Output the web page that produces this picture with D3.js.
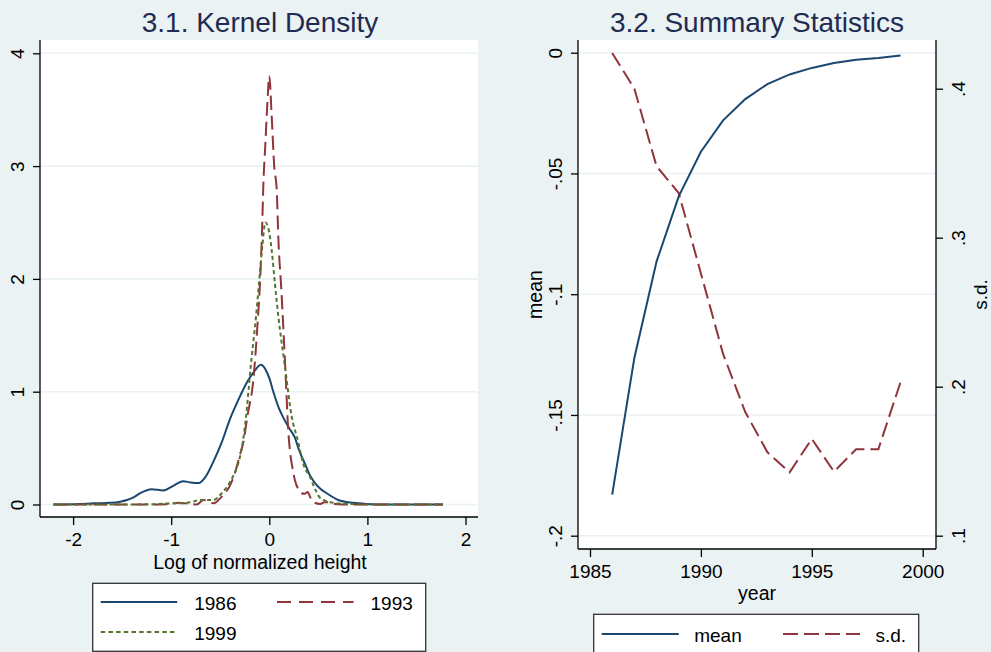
<!DOCTYPE html>
<html>
<head>
<meta charset="utf-8">
<script src="https://cdn.jsdelivr.net/npm/d3@7"></script>
<style>
body { margin: 0; background: #eaf2f3; }
svg { display: block; font-family: "Liberation Sans", Arial, sans-serif; }
</style>
</head>
<body>
<div id="chart"></div>
<script>
var bg = "#eaf2f3";
var navy = "#1a476f", maroon = "#90353b", green = "#55752f";
var titleColor = "#1f2b50";

// 3.1 kernel density : [log of normalized height, density]
var kd1986 = [[-2.2,0],[-1.93,0.005],[-1.79,0.01],[-1.62,0.015],[-1.52,0.025],[-1.45,0.04],[-1.38,0.065],
              [-1.315,0.1],[-1.2,0.135],[-1.08,0.125],[-0.98,0.165],[-0.88,0.207],[-0.8,0.195],[-0.72,0.19],
              [-0.65,0.245],[-0.57,0.38],[-0.485,0.55],[-0.4,0.76],[-0.33,0.9],[-0.23,1.08],[-0.163,1.17],
              [-0.085,1.24],[-0.04,1.2],[0,1.12],[0.041,1.0],[0.1,0.85],[0.143,0.77],[0.2,0.68],[0.262,0.59],
              [0.3,0.49],[0.364,0.36],[0.42,0.25],[0.466,0.19],[0.52,0.14],[0.585,0.1],[0.703,0.04],
              [0.85,0.015],[0.99,0.005],[1.2,0],[1.77,0]];
var kd1993 = [[-2.2,0],[-1.6,0],[-1.2,0],[-1.0,0.005],[-0.93,0.015],[-0.85,0.01],[-0.74,0],[-0.67,0.04],
              [-0.6,0.02],[-0.57,0.01],[-0.485,0.07],[-0.4,0.17],[-0.35,0.28],[-0.3,0.44],[-0.265,0.55],
              [-0.22,0.8],[-0.163,1.1],[-0.12,1.6],[-0.095,1.96],[-0.075,2.4],[-0.06,2.85],[-0.04,3.2],
              [-0.02,3.55],[0,3.8],[0.024,3.45],[0.05,3.0],[0.075,2.8],[0.095,2.3],[0.119,1.96],[0.17,1.08],
              [0.19,0.7],[0.21,0.48],[0.235,0.33],[0.26,0.22],[0.3,0.13],[0.33,0.1],[0.36,0.095],[0.39,0.11],
              [0.42,0.06],[0.45,0.02],[0.52,0.005],[0.56,0.02],[0.6,0.02],[0.67,0.005],[0.8,0],[1.2,0],[1.77,0]];
var kd1999 = [[-2.2,0],[-1.6,0],[-1.2,0.002],[-1.0,0.01],[-0.9,0.01],[-0.8,0.02],[-0.706,0.04],[-0.57,0.04],
              [-0.485,0.1],[-0.4,0.2],[-0.3,0.42],[-0.28,0.5],[-0.237,0.78],[-0.19,1.22],[-0.135,1.67],
              [-0.105,1.96],[-0.07,2.3],[-0.04,2.5],[-0.01,2.45],[0.024,2.26],[0.057,1.96],[0.092,1.67],
              [0.16,1.22],[0.228,0.78],[0.296,0.55],[0.313,0.48],[0.35,0.35],[0.415,0.245],[0.45,0.17],
              [0.517,0.06],[0.585,0.03],[0.65,0.015],[0.79,0.005],[1.0,0],[1.77,0]];
var kdTicksX = [-2, -1, 0, 1, 2];
var kdTicksY = [0, 1, 2, 3, 4];

// 3.2 summary statistics
var years = [1986,1987,1988,1989,1990,1991,1992,1993,1994,1995,1996,1997,1998,1999];
var meanVals = [-0.183,-0.1264,-0.0865,-0.0595,-0.041,-0.028,-0.0192,-0.013,-0.009,-0.0063,-0.0043,-0.0029,-0.0022,-0.0012];
var sdVals = [0.424,0.4,0.348,0.33,0.276,0.222,0.183,0.156,0.1425,0.165,0.143,0.158,0.158,0.203];
var yearTicks = [1985, 1990, 1995, 2000];
var meanTicks = [0, -0.05, -0.1, -0.15, -0.2];
var meanTickLabels = ["0", "-.05", "-.1", "-.15", "-.2"];
var sdTicks = [0.1, 0.2, 0.3, 0.4];
var sdTickLabels = [".1", ".2", ".3", ".4"];

var svg = d3.select("#chart").append("svg")
            .attr("width", 991).attr("height", 652);

svg.append("rect").attr("width", 991).attr("height", 652).attr("fill", bg);

function styleAxis(g){
  g.select(".domain").remove();
  g.selectAll(".tick line").attr("stroke", "#000").attr("stroke-width", 1.3);
  g.selectAll(".tick text").attr("fill", "#000").style("font-size", "19px");
}

function rotateLabels(g, offset){
  g.selectAll(".tick text")
   .attr("transform", "rotate(-90)")
   .attr("x", 0).attr("y", offset).attr("dy", 0)
   .style("text-anchor", "middle");
}

/////////////////////////////// 3.1 Kernel Density ///////////////////////////////
var p1 = {left: 40, right: 478, top: 40, bottom: 517};
var x1 = d3.scaleLinear().domain([-2, 2]).range([73.1, 465.5]);
var y1 = d3.scaleLinear().domain([0, 4]).range([504.5, 53.3]);

svg.append("rect")
   .attr("x", p1.left).attr("y", p1.top)
   .attr("width", p1.right - p1.left).attr("height", p1.bottom - p1.top)
   .attr("fill", "#fff");

svg.selectAll("line.grid1")
   .data(kdTicksY)
   .enter()
   .append("line")
   .attr("class", "grid1")
   .attr("x1", p1.left).attr("x2", p1.right)
   .attr("y1", function(d){ return y1(d); })
   .attr("y2", function(d){ return y1(d); })
   .attr("stroke", bg).attr("stroke-width", 1.6);

var kdLine = d3.line()
               .x(function(d){ return x1(d[0]); })
               .y(function(d){ return y1(d[1]); })
               .curve(d3.curveMonotoneX);

var kdSeries = [
  {data: kd1986, color: navy, dash: null},
  {data: kd1993, color: maroon, dash: "14,6"},
  {data: kd1999, color: green, dash: "4,3"}
];

svg.selectAll("path.kd")
   .data(kdSeries)
   .enter()
   .append("path")
   .attr("class", "kd")
   .attr("d", function(d){ return kdLine(d.data); })
   .attr("fill", "none")
   .attr("stroke", function(d){ return d.color; })
   .attr("stroke-width", 2)
   .attr("stroke-dasharray", function(d){ return d.dash; });

// axes
var ax1 = svg.append("g").attr("transform", "translate(0," + p1.bottom + ")")
             .call(d3.axisBottom(x1).tickValues(kdTicksX).tickSize(8).tickPadding(8)
                   .tickFormat(function(d){ return d < 0 ? "-" + Math.abs(d) : String(d); }));
styleAxis(ax1);
var ay1 = svg.append("g").attr("transform", "translate(" + p1.left + ",0)")
             .call(d3.axisLeft(y1).tickValues(kdTicksY).tickSize(7)
                   .tickFormat(function(d){ return String(d); }));
styleAxis(ay1);
rotateLabels(ay1, -16);

svg.append("line").attr("x1", p1.left).attr("x2", p1.left).attr("y1", p1.top).attr("y2", p1.bottom)
   .attr("stroke", "#000").attr("stroke-width", 1.3);
svg.append("line").attr("x1", p1.left).attr("x2", p1.right).attr("y1", p1.bottom).attr("y2", p1.bottom)
   .attr("stroke", "#000").attr("stroke-width", 1.3);

svg.append("text").attr("x", 260).attr("y", 31.5).attr("text-anchor", "middle")
   .style("font-size", "28px").attr("fill", titleColor).text("3.1. Kernel Density");
svg.append("text").attr("x", 260).attr("y", 569).attr("text-anchor", "middle")
   .style("font-size", "19.5px").attr("fill", "#000").text("Log of normalized height");

// legend
svg.append("rect").attr("x", 92.7).attr("y", 583.3).attr("width", 333).attr("height", 68)
   .attr("fill", "#fff").attr("stroke", "#333").attr("stroke-width", 1.3);

var legend1 = [
  {label: "1986", color: navy, dash: null, x: 100.7, y: 602},
  {label: "1993", color: maroon, dash: "14,8", x: 277, y: 602},
  {label: "1999", color: green, dash: "4.5,3.2", x: 100.7, y: 632}
];

svg.selectAll("line.leg1")
   .data(legend1)
   .enter()
   .append("line")
   .attr("class", "leg1")
   .attr("x1", function(d){ return d.x; })
   .attr("x2", function(d){ return d.x + 76.5; })
   .attr("y1", function(d){ return d.y; })
   .attr("y2", function(d){ return d.y; })
   .attr("stroke", function(d){ return d.color; })
   .attr("stroke-width", 2)
   .attr("stroke-dasharray", function(d){ return d.dash; });

svg.selectAll("text.leg1")
   .data(legend1)
   .enter()
   .append("text")
   .attr("class", "leg1")
   .attr("x", function(d){ return d.x + 93.5; })
   .attr("y", function(d){ return d.y + 8.3; })
   .style("font-size", "19px")
   .text(function(d){ return d.label; });

/////////////////////////////// 3.2 Summary Statistics ///////////////////////////////
var p2 = {left: 578, right: 936, top: 40, bottom: 549};
var x2 = d3.scaleLinear().domain([1985, 2000]).range([590, 922.7]);
var yMean = d3.scaleLinear().domain([-0.2, 0]).range([535.7, 52.7]);
var ySd = d3.scaleLinear().domain([0.1, 0.4]).range([535.7, 88.7]);

svg.append("rect")
   .attr("x", p2.left).attr("y", p2.top)
   .attr("width", p2.right - p2.left).attr("height", p2.bottom - p2.top)
   .attr("fill", "#fff");

svg.selectAll("line.grid2")
   .data(meanTicks)
   .enter()
   .append("line")
   .attr("class", "grid2")
   .attr("x1", p2.left).attr("x2", p2.right)
   .attr("y1", function(d){ return yMean(d); })
   .attr("y2", function(d){ return yMean(d); })
   .attr("stroke", bg).attr("stroke-width", 1.6);

var meanLine = d3.line()
                 .x(function(d, i){ return x2(years[i]); })
                 .y(function(d){ return yMean(d); });
var sdLine = d3.line()
               .x(function(d, i){ return x2(years[i]); })
               .y(function(d){ return ySd(d); });

svg.append("path").attr("d", sdLine(sdVals))
   .attr("fill", "none").attr("stroke", maroon).attr("stroke-width", 2)
   .attr("stroke-dasharray", "15,6");
svg.append("path").attr("d", meanLine(meanVals))
   .attr("fill", "none").attr("stroke", navy).attr("stroke-width", 2);

var ax2 = svg.append("g").attr("transform", "translate(0," + p2.bottom + ")")
             .call(d3.axisBottom(x2).tickValues(yearTicks).tickSize(8).tickPadding(8)
                   .tickFormat(d3.format("d")));
styleAxis(ax2);
var ayl = svg.append("g").attr("transform", "translate(" + p2.left + ",0)")
             .call(d3.axisLeft(yMean).tickValues(meanTicks).tickSize(7)
                   .tickFormat(function(d, i){ return meanTickLabels[i]; }));
styleAxis(ayl);
rotateLabels(ayl, -16.3);
var ayr = svg.append("g").attr("transform", "translate(" + p2.right + ",0)")
             .call(d3.axisRight(ySd).tickValues(sdTicks).tickSize(7)
                   .tickFormat(function(d, i){ return sdTickLabels[i]; }));
styleAxis(ayr);
rotateLabels(ayr, 29);

svg.append("line").attr("x1", p2.left).attr("x2", p2.left).attr("y1", p2.top).attr("y2", p2.bottom)
   .attr("stroke", "#000").attr("stroke-width", 1.3);
svg.append("line").attr("x1", p2.right).attr("x2", p2.right).attr("y1", p2.top).attr("y2", p2.bottom)
   .attr("stroke", "#000").attr("stroke-width", 1.3);
svg.append("line").attr("x1", p2.left).attr("x2", p2.right).attr("y1", p2.bottom).attr("y2", p2.bottom)
   .attr("stroke", "#000").attr("stroke-width", 1.3);

svg.append("text").attr("x", 757).attr("y", 31.5).attr("text-anchor", "middle")
   .style("font-size", "28px").attr("fill", titleColor).text("3.2. Summary Statistics");
svg.append("text").attr("x", 757).attr("y", 599.5).attr("text-anchor", "middle")
   .style("font-size", "19.5px").text("year");
svg.append("text").attr("transform", "translate(542,294.5) rotate(-90)").attr("text-anchor", "middle")
   .style("font-size", "19.5px").text("mean");
svg.append("text").attr("transform", "translate(987,294.5) rotate(-90)").attr("text-anchor", "middle")
   .style("font-size", "19px").text("s.d.");

// legend
svg.append("rect").attr("x", 593.7).attr("y", 614.3).attr("width", 325).attr("height", 40)
   .attr("fill", "#fff").attr("stroke", "#333").attr("stroke-width", 1.3);

var legend2 = [
  {label: "mean", color: navy, dash: null, x: 601.7, y: 634},
  {label: "s.d.", color: maroon, dash: "15,6", x: 783, y: 634}
];

svg.selectAll("line.leg2")
   .data(legend2)
   .enter()
   .append("line")
   .attr("class", "leg2")
   .attr("x1", function(d){ return d.x; })
   .attr("x2", function(d){ return d.x + 77; })
   .attr("y1", function(d){ return d.y; })
   .attr("y2", function(d){ return d.y; })
   .attr("stroke", function(d){ return d.color; })
   .attr("stroke-width", 2)
   .attr("stroke-dasharray", function(d){ return d.dash; });

svg.selectAll("text.leg2")
   .data(legend2)
   .enter()
   .append("text")
   .attr("class", "leg2")
   .attr("x", function(d){ return d.x + 92.5; })
   .attr("y", function(d){ return d.y + 7.5; })
   .style("font-size", "19px")
   .text(function(d){ return d.label; });
</script>
</body>
</html>
